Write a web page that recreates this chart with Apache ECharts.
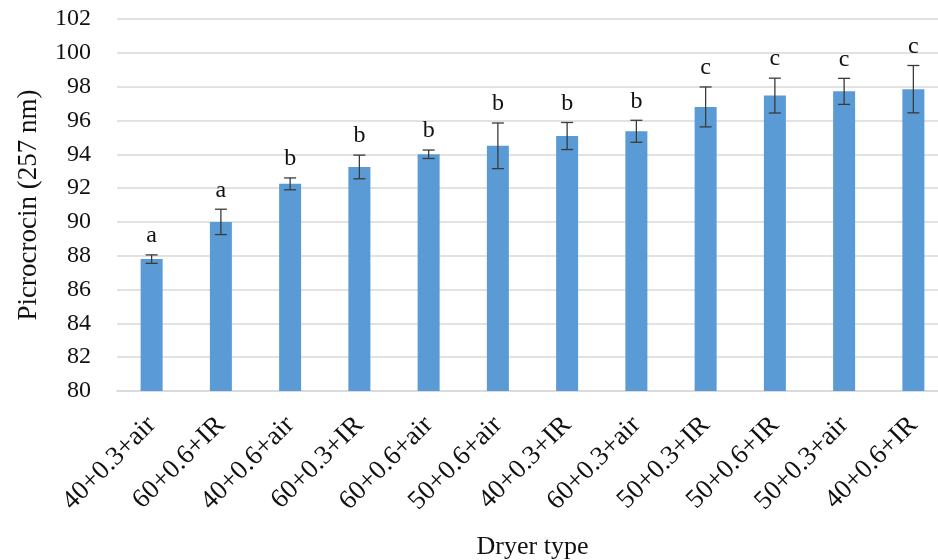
<!DOCTYPE html>
<html>
<head>
<meta charset="utf-8">
<script src="https://cdn.jsdelivr.net/npm/echarts@6/dist/echarts.min.js"></script>
<style>
html,body{margin:0;padding:0;background:#fff;}
#chart{width:938px;height:560px;}
</style>
</head>
<body>
<div id="chart"></div>
<script>
var categories = ['40+0.3+air','60+0.6+IR','40+0.6+air','60+0.3+IR','60+0.6+air','50+0.6+air','40+0.3+IR','60+0.3+air','50+0.3+IR','50+0.6+IR','50+0.3+air','40+0.6+IR'];
var values = [87.8, 90.0, 92.25, 93.25, 94.0, 94.5, 95.08, 95.36, 96.8, 97.47, 97.72, 97.85];
var errors = [0.25, 0.75, 0.35, 0.7, 0.25, 1.35, 0.8, 0.65, 1.18, 1.03, 0.77, 1.4];
var letters = ['a','a','b','b','b','b','b','b','c','c','c','c'];
var yTicks = {min: 80, max: 102, interval: 2};

var FONT = "'Liberation Serif','Times New Roman',serif";
var chart = echarts.init(document.getElementById('chart'));
var errData = values.map(function(v, i){ return [i, v, errors[i], letters[i]]; });

chart.setOption({
  animation: false,
  backgroundColor: '#fff',
  grid: {left: 117, top: 19, width: 831, height: 372, outerBoundsMode: 'none', containLabel: false},
  xAxis: {
    type: 'category',
    data: categories,
    name: 'Dryer type',
    nameLocation: 'middle',
    nameGap: 143,
    nameTextStyle: {fontFamily: FONT, fontSize: 26, color: '#111'},
    axisLine: {show: true, lineStyle: {color: '#d9d9d9', width: 1.5}},
    axisTick: {show: false},
    axisLabel: {rotate: 45, interval: 0, margin: 30, fontFamily: FONT, fontSize: 27, color: '#111'}
  },
  yAxis: {
    type: 'value',
    min: yTicks.min, max: yTicks.max, interval: yTicks.interval,
    name: 'Picrocrocin (257 nm)',
    nameLocation: 'middle',
    nameGap: 75,
    nameTextStyle: {fontFamily: FONT, fontSize: 27, color: '#111'},
    axisLine: {show: false},
    axisTick: {show: false},
    axisLabel: {margin: 26, fontFamily: FONT, fontSize: 24, color: '#111'},
    splitLine: {lineStyle: {color: '#d9d9d9', width: 1.5}}
  },
  series: [
    {
      type: 'bar',
      data: values,
      barWidth: 22,
      itemStyle: {color: '#5b9bd5'}
    },
    {
      type: 'custom',
      data: errData,
      z: 10,
      renderItem: function(params, api){
        var x = api.value(0), v = api.value(1), e = api.value(2);
        var lbl = letters[params.dataIndex];
        var top = api.coord([x, v + e]);
        var bot = api.coord([x, v - e]);
        var hw = 6;
        var st = {stroke: '#3a3a3a', lineWidth: 1.3};
        return {
          type: 'group',
          children: [
            {type: 'line', shape: {x1: top[0], y1: top[1], x2: bot[0], y2: bot[1]}, style: st},
            {type: 'line', shape: {x1: top[0]-hw, y1: top[1], x2: top[0]+hw, y2: top[1]}, style: st},
            {type: 'line', shape: {x1: bot[0]-hw, y1: bot[1], x2: bot[0]+hw, y2: bot[1]}, style: st},
            {type: 'text', style: {text: lbl, x: top[0], y: top[1] - 7, textAlign: 'center', textVerticalAlign: 'bottom', font: '24px ' + FONT, fill: '#111'}}
          ]
        };
      }
    }
  ]
});
</script>
</body>
</html>
